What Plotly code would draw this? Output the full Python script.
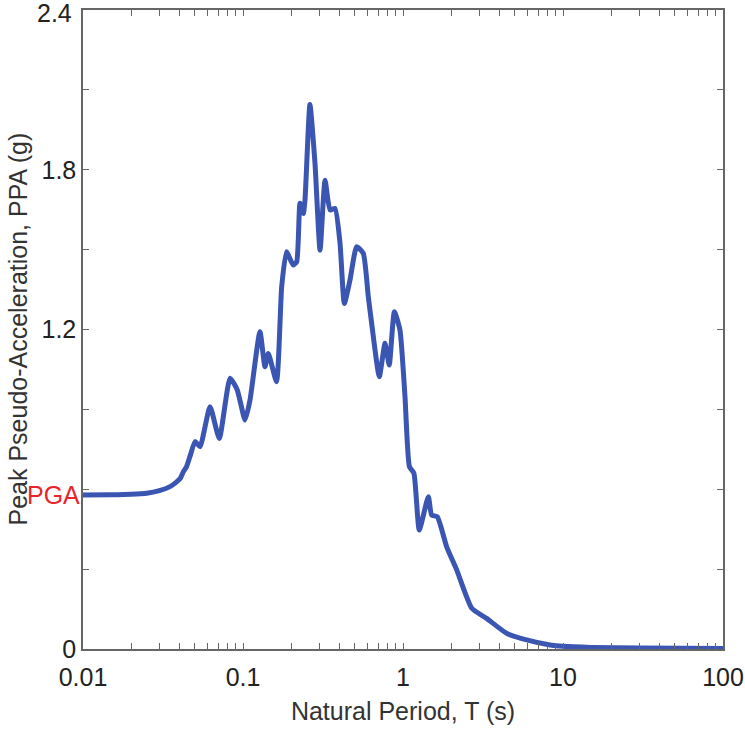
import plotly.graph_objects as go

# Natural period T (s) and peak pseudo-acceleration PPA (g)
period = [0.01, 0.015, 0.02, 0.025, 0.03, 0.035, 0.038, 0.0405, 0.0424, 0.0444, 0.047,
          0.0501, 0.0539, 0.0622, 0.0711, 0.083, 0.0921, 0.103, 0.1106, 0.1276, 0.1372,
          0.1439, 0.162, 0.1745, 0.187, 0.206, 0.2167, 0.2271, 0.2382, 0.244, 0.262,
          0.2818, 0.303, 0.3256, 0.3499, 0.3758, 0.404, 0.43, 0.4665, 0.513, 0.5646,
          0.607, 0.637, 0.711, 0.772, 0.8205, 0.883, 0.957, 1.029, 1.097, 1.17, 1.264,
          1.44, 1.51, 1.637, 1.875, 2.166, 2.69, 3.33, 4.44, 5.93, 8.3, 10, 15, 30, 100]
ppa = [0.578, 0.579, 0.581, 0.585, 0.595, 0.61, 0.625, 0.64, 0.666, 0.685, 0.73,
       0.779, 0.76, 0.91, 0.791, 1.017, 0.973, 0.86, 0.935, 1.192, 1.06,
       1.11, 1.004, 1.361, 1.492, 1.442, 1.455, 1.674, 1.636, 1.686, 2.045,
       1.824, 1.498, 1.761, 1.649, 1.655, 1.524, 1.298, 1.386, 1.511, 1.486,
       1.323, 1.223, 1.023, 1.148, 1.067, 1.267, 1.198, 0.948, 0.685, 0.66, 0.447,
       0.572, 0.503, 0.497, 0.384, 0.297, 0.153, 0.115, 0.059, 0.034, 0.015, 0.010, 0.006, 0.004, 0.002]
pga = 0.578

x_major = [0.01, 0.1, 1, 10, 100]
x_major_labels = ["0.01", "0.1", "1", "10", "100"]
y_ticks = [0, 0.3, 0.6, 0.9, 1.2, 1.5, 1.8, 2.1, 2.4]
y_labels = ["0", "", "", "", "1.2", "", "1.8", "", ""]
y_top_label = "2.4"

FONT = "Liberation Sans, Arial, sans-serif"

xtickvals, xticktext = [], []
for d in [0.01, 0.1, 1, 10]:
    for m in range(1, 10):
        v = round(d * m, 6)
        xtickvals.append(v)
        xticktext.append(x_major_labels[x_major.index(d)] if m == 1 else "")
xtickvals.append(100)
xticktext.append("100")

fig = go.Figure()
fig.add_trace(go.Scatter(x=period, y=ppa, mode="lines",
                         line=dict(color="#3a55b2", width=5, shape="spline", smoothing=0.5),
                         showlegend=False, hoverinfo="skip"))

axis_common = dict(showline=True, linecolor="#666666", linewidth=1.5, mirror="ticks",
                   ticks="inside", ticklen=6, tickcolor="#666666", tickwidth=1,
                   showgrid=False, zeroline=False, ticklabeloverflow="allow",
                   automargin=False,
                   tickfont=dict(family=FONT, size=25, color="#222222"))

fig.update_xaxes(type="log", range=[-2, 2], tickvals=xtickvals, ticktext=xticktext,
                 ticklabelstandoff=5,
                 title=dict(text="Natural Period, T (s)", standoff=13,
                            font=dict(family=FONT, size=25, color="#333333")),
                 **axis_common)
fig.update_yaxes(range=[0, 2.4], tickvals=y_ticks, ticktext=y_labels, **axis_common)

# top y tick label, nudged down slightly so it stays inside the page as in the reference
fig.add_annotation(x=0, xref="paper", y=y_ticks[-1], yref="y", text=y_top_label,
                   showarrow=False, xanchor="right", yanchor="middle",
                   xshift=-9, yshift=-3,
                   font=dict(family=FONT, size=25, color="#222222"))

fig.add_annotation(x=0, xref="paper", y=0.5, yref="paper",
                   text="Peak Pseudo-Acceleration, PPA (g)", showarrow=False,
                   textangle=-90, xanchor="center", yanchor="middle", xshift=-66,
                   font=dict(family=FONT, size=25, color="#333333"))

fig.add_annotation(x=0, xref="paper", y=pga, yref="y", text="PGA", showarrow=False,
                   xanchor="right", yanchor="middle", xshift=-1,
                   font=dict(family=FONT, size=25, color="#e8252a"))

fig.update_layout(width=745, height=729, margin=dict(l=83, r=22, t=10, b=80),
                  plot_bgcolor="white", paper_bgcolor="white")

fig.write_html("out.html")
